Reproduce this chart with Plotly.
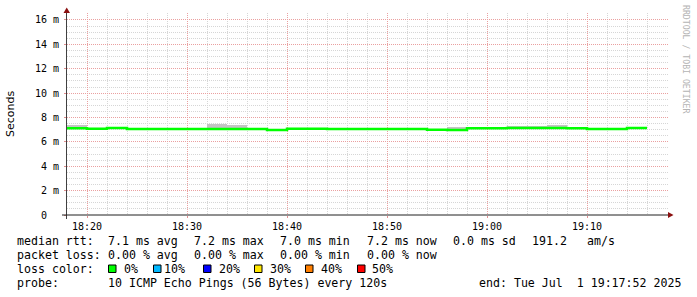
import pandas as pd
import plotly.graph_objects as go

# ---------------- data ----------------
step_starts = list(pd.date_range("2025-07-01 18:18:00", periods=29, freq="2min"))
step_end = pd.Timestamp("2025-07-01 19:16:00")

median_ms = [7.12, 7.08, 7.14, 7.06, 7.06, 7.06, 7.06, 7.06, 7.06, 7.06,
             6.98, 7.08, 7.08, 7.06, 7.06, 7.06, 7.06, 7.06, 7.00, 6.98,
             7.12, 7.12, 7.14, 7.14, 7.14, 7.12, 7.06, 7.06, 7.14]
smoke_hi = [7.35, 7.15, 7.18, 7.10, 7.10, 7.10, 7.10, 7.45, 7.38, 7.15,
            7.02, 7.12, 7.12, 7.10, 7.10, 7.10, 7.10, 7.10, 7.04, 7.20,
            7.16, 7.16, 7.30, 7.30, 7.40, 7.16, 7.10, 7.10, 7.20]
smoke_lo = [7.06, 7.02, 7.08, 7.02, 7.02, 7.02, 7.02, 7.02, 7.02, 7.02,
            6.94, 7.04, 7.04, 7.02, 7.02, 7.02, 7.02, 7.02, 6.96, 6.94,
            7.08, 7.08, 7.10, 7.10, 7.10, 7.08, 7.02, 7.02, 7.10]

y_tick_vals = [0, 2, 4, 6, 8, 10, 12, 14, 16]
y_tick_text = ["0\u00a0\u00a0", "2 m", "4 m", "6 m", "8 m", "10 m", "12 m", "14 m", "16 m"]

legend_rtt = [("median rtt:", 16), ("7.1 ms avg", 107), ("7.2 ms max", 193),
              ("7.0 ms min", 279), ("7.2 ms now", 366), ("0.0 ms sd", 452),
              ("191.2", 531), ("am/s", 586)]
legend_loss = [("packet loss:", 16), ("0.00 % avg", 107), ("0.00 % max", 193),
               ("0.00 % min", 279), ("0.00 % now", 366)]
loss_labels = ["0%", "10%", "20%", "30%", "40%", "50%"]
loss_colors = ["#00ff00", "#00b8ff", "#0000ff", "#ffe600", "#ff7f00", "#ff0000"]
loss_square_x = [108, 153, 203, 254, 305, 357]
loss_text_x = [123, 163, 218, 269, 320, 371]
probe_line = [("probe:", 16), ("10 ICMP Echo Pings (56 Bytes) every 120s", 107),
              ("end: Tue Jul  1 19:17:52 2025", 478)]

# ---------------- geometry helpers (pixel -> paper) ----------------
L, R, T, B = 67, 668, 13, 215
W, H = 697, 297


def px(x):
    return (x - L) / (R - L)


def py(y):
    return (B - y) / (B - T)


MONO = "DejaVu Sans Mono"
fig = go.Figure()

# smoke
fig.add_trace(go.Bar(
    x=step_starts,
    base=smoke_lo,
    y=[h - l for h, l in zip(smoke_hi, smoke_lo)],
    width=120000, offset=0,
    marker=dict(color="#c4c4c4", line=dict(width=0)),
    hoverinfo="skip", showlegend=False,
))
# median line
fig.add_trace(go.Scatter(
    x=step_starts + [step_end],
    y=median_ms + [median_ms[-1]],
    mode="lines", line=dict(color="#00ff00", width=2.5, shape="hv"),
    hoverinfo="skip", showlegend=False,
))

fig.update_layout(
    width=W, height=H,
    margin=dict(l=L, r=W - R, t=T, b=H - B),
    paper_bgcolor="white", plot_bgcolor="white",
    bargap=0, showlegend=False,
    font=dict(family=MONO, size=10, color="#000000"),
)

fig.update_xaxes(
    type="date",
    range=["2025-07-01 18:18:00", "2025-07-01 19:18:06"],
    tick0="2025-07-01 18:20:00", dtick=600000, tickformat="%H:%M",
    showgrid=True, gridcolor="#eaa0a0", griddash="1px,1px", gridwidth=1,
    minor=dict(dtick=120000, showgrid=True, gridcolor="#d6d6d6",
               griddash="1px,1px", ticks=""),
    ticks="outside", ticklen=2, tickcolor="#e09090",
    showline=False, zeroline=False,
    tickfont=dict(family=MONO, size=10, color="#000000"),
)
fig.update_yaxes(
    range=[0, (B - T) / 12.19],
    tickvals=y_tick_vals, ticktext=y_tick_text,
    showgrid=True, gridcolor="#eaa0a0", griddash="1px,1px", gridwidth=1,
    minor=dict(dtick=0.5, showgrid=True, gridcolor="#d6d6d6",
               griddash="1px,1px", ticks=""),
    ticks="outside", ticklen=2, tickcolor="#e09090",
    ticklabelstandoff=3,
    showline=False, zeroline=False,
    tickfont=dict(family=MONO, size=10, color="#000000"),
)

shapes = []
# axis lines
shapes.append(dict(type="line", xref="paper", yref="paper",
                   x0=px(66.5), x1=px(66.5), y0=py(219), y1=py(10),
                   line=dict(color="#404040", width=1)))
shapes.append(dict(type="line", xref="paper", yref="paper",
                   x0=px(62), x1=px(670), y0=py(215), y1=py(215),
                   line=dict(color="#202020", width=1)))
# arrows
shapes.append(dict(type="path", xref="paper", yref="paper",
                   path=f"M{px(63.5)},{py(13)} L{px(70)},{py(13)} L{px(66.7)},{py(7.5)} Z",
                   fillcolor="#8b1010", line=dict(width=0)))
shapes.append(dict(type="path", xref="paper", yref="paper",
                   path=f"M{px(668)},{py(212)} L{px(668)},{py(218)} L{px(673.5)},{py(215)} Z",
                   fillcolor="#8b1010", line=dict(width=0)))
# loss colour squares
for sx, col in zip(loss_square_x, loss_colors):
    shapes.append(dict(type="rect", xref="paper", yref="paper",
                       x0=px(sx + 0.5), x1=px(sx + 8), y0=py(272.5), y1=py(265),
                       fillcolor=col, line=dict(color="#000000", width=1)))
fig.update_layout(shapes=shapes)

annotations = []


def txt(s, x, y, size=11.6, color="#000000", family=MONO, angle=0,
        xanchor="left", yanchor="middle"):
    annotations.append(dict(
        text=s.replace(" ", "\u00a0"), x=px(x), y=py(y),
        xref="paper", yref="paper", showarrow=False,
        xanchor=xanchor, yanchor=yanchor, textangle=angle,
        font=dict(family=family, size=size, color=color),
        borderpad=0,
    ))


for s, x in legend_rtt:
    txt(s, x, 241)
for s, x in legend_loss:
    txt(s, x, 255)
txt("loss color:", 16, 269)
for s, x in zip(loss_labels, loss_text_x):
    txt(s, x, 269)
for s, x in probe_line:
    txt(s, x, 283)

# y axis title
txt("Seconds", 10, 114, size=11, family="DejaVu Sans", angle=-90, xanchor="center")
# watermark
txt("RRDTOOL / TOBI OETIKER", 686, 59, size=8.2, color="#b4b4b4", angle=90,
    xanchor="center")

fig.update_layout(annotations=annotations)

fig.write_html("out.html")
